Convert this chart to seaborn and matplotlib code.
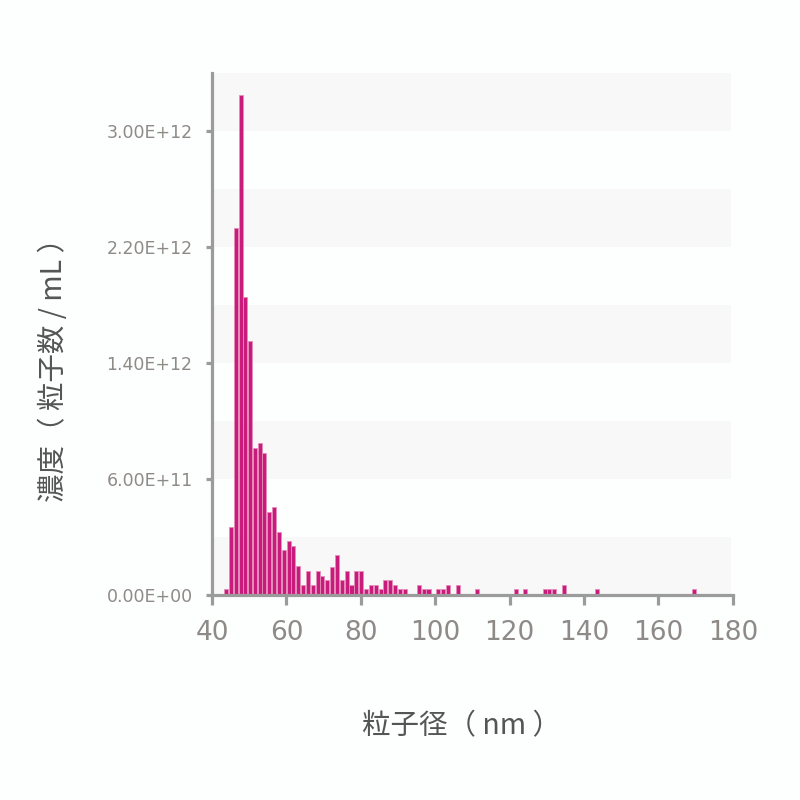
import pandas as pd
import matplotlib
matplotlib.use("Agg")
import matplotlib.pyplot as plt
import seaborn as sns

# particle size (nm), bin centres
sizes = [43.8, 45.1, 46.4, 47.7, 49.0, 50.2, 51.5, 52.8, 54.1, 55.4,
         56.7, 58.0, 59.3, 60.6, 61.9, 63.2, 64.5, 65.8, 67.1, 68.4,
         69.7, 71.0, 72.3, 73.6, 74.9, 76.2, 77.5, 78.8, 80.1, 81.4,
         82.7, 84.0, 85.3, 86.6, 87.9, 89.2, 90.5, 91.8, 95.6, 96.9,
         98.2, 100.8, 102.1, 103.4, 106.0, 111.2, 121.6, 124.2, 129.4, 130.7,
         132.0, 134.6, 143.6, 169.6]
# concentration (particles / mL)
conc = [0.04e12, 0.44e12, 2.37e12, 3.23e12, 1.925e12, 1.644e12, 0.948e12, 0.985e12, 0.92e12, 0.539e12,
        0.571e12, 0.41e12, 0.29e12, 0.347e12, 0.318e12, 0.19e12, 0.065e12, 0.155e12, 0.065e12, 0.155e12,
        0.127e12, 0.095e12, 0.183e12, 0.259e12, 0.095e12, 0.155e12, 0.065e12, 0.155e12, 0.155e12, 0.037e12,
        0.065e12, 0.065e12, 0.037e12, 0.095e12, 0.095e12, 0.065e12, 0.037e12, 0.037e12, 0.065e12, 0.04e12,
        0.037e12, 0.04e12, 0.04e12, 0.065e12, 0.065e12, 0.04e12, 0.037e12, 0.037e12, 0.037e12, 0.037e12,
        0.037e12, 0.065e12, 0.037e12, 0.037e12]

x_ticks = [40, 60, 80, 100, 120, 140, 160, 180]
y_ticks = [0, 0.75e12, 1.5e12, 2.25e12, 3.0e12]
y_tick_labels = ["0.00E+00", "6.00E+11", "1.40E+12", "2.20E+12", "3.00E+12"]

df = pd.DataFrame({"size": sizes, "conc": conc})

sns.set_theme(style="white")
plt.rcParams["font.family"] = ["DejaVu Sans", "Noto Sans CJK JP"]

bg = "#fdfefe"
spine_col = "#9b9b9b"
fig = plt.figure(figsize=(8, 8), dpi=100, facecolor=bg)
ax = fig.add_axes([0.265, 0.256, 0.651, 0.653], facecolor=bg)

# light alternating bands
for lo in [0, 0.75e12, 1.5e12, 2.25e12, 3.0e12]:
    ax.axhspan(lo, lo + 0.375e12, xmax=0.996, color="#f8f8f8", lw=0, zorder=0)

sns.barplot(data=df, x="size", y="conc", native_scale=True, width=0.9,
            color="#c81b7b", saturation=1, edgecolor="#e68dba", linewidth=0.6,
            errorbar=None, ax=ax, zorder=2)

ax.set_xlim(40, 180)
ax.set_ylim(0, 3.375e12)
ax.set_xticks(x_ticks)
ax.set_xticklabels([str(t) for t in x_ticks])
ax.set_yticks(y_ticks)
ax.set_yticklabels(y_tick_labels)

for s in ["top", "right"]:
    ax.spines[s].set_visible(False)
for s in ["left", "bottom"]:
    ax.spines[s].set_color(spine_col)
    ax.spines[s].set_linewidth(2.3)

ax.tick_params(axis="x", direction="out", length=7, width=2.3, color=spine_col,
               labelsize=19, labelcolor="#8e8a88", pad=11, bottom=True)
ax.tick_params(axis="y", direction="out", length=4, width=2.3, color=spine_col,
               labelsize=12.5, labelcolor="#8e8a88", pad=10, left=True)

ax.set_xlabel("粒子径（ nm ）", fontsize=20.5, color="#555555",
              family=["Noto Sans CJK JP", "DejaVu Sans"])
ax.set_ylabel("濃度（ 粒子数 / mL ）", fontsize=20.5, color="#555555",
              family=["Noto Sans CJK JP", "DejaVu Sans"])
ax.xaxis.set_label_coords(0.48, -0.222)
ax.yaxis.set_label_coords(-0.274, 0.445)

fig.savefig("out.png", dpi=100, facecolor=bg)
